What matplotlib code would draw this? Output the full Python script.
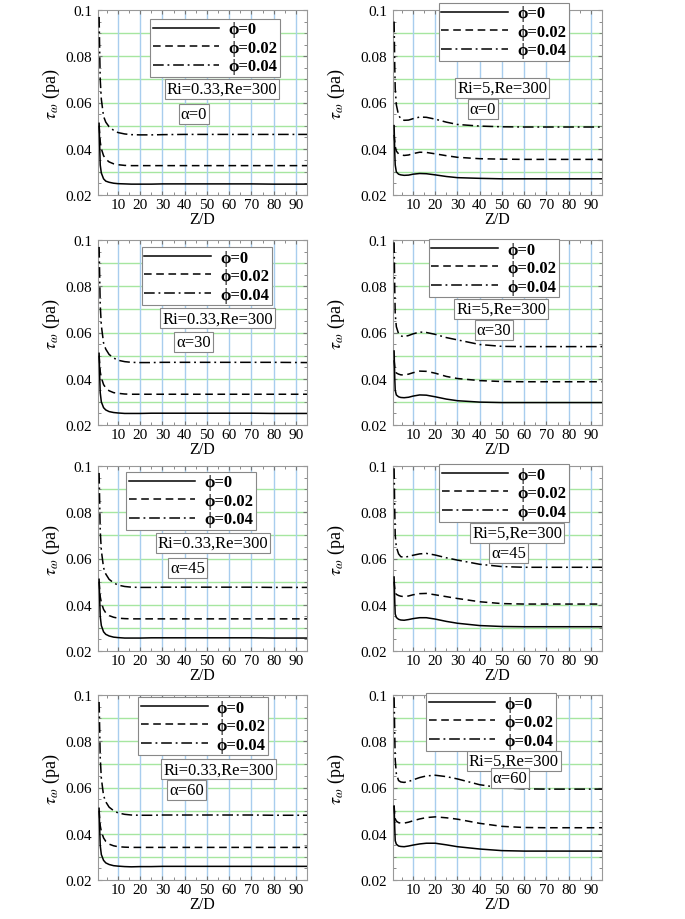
import numpy as np
import matplotlib
matplotlib.use('Agg')
import matplotlib.pyplot as plt
from matplotlib.ticker import MultipleLocator, FormatStrFormatter

plt.rcParams['font.family'] = ['Liberation Serif', 'DejaVu Serif']
plt.rcParams['mathtext.fontset'] = 'stix'

# wspólna oś Z/D
Z = [1.5, 1.8, 2.0, 2.5, 3.5, 4.5, 6, 8, 10, 13, 16, 20, 25, 30, 40, 50, 60, 70, 80, 95]

# Ri=0.33, Re=300
ri033_a0_p0 = [0.051, 0.040, 0.033, 0.0295, 0.027, 0.026, 0.0255, 0.0251, 0.0249, 0.0248, 0.0247, 0.0247, 0.0247, 0.0248, 0.0248, 0.0248, 0.0248, 0.0248, 0.0247, 0.0247]
ri033_a0_p2 = [0.050, 0.046, 0.043, 0.040, 0.037, 0.0355, 0.0343, 0.0335, 0.0331, 0.0328, 0.0327, 0.0327, 0.0327, 0.0327, 0.0327, 0.0327, 0.0327, 0.0327, 0.0327, 0.0327]
ri033_a0_p4 = [0.097, 0.080, 0.070, 0.0614, 0.054, 0.0515, 0.0495, 0.048, 0.047, 0.0464, 0.0461, 0.046, 0.046, 0.0461, 0.0462, 0.0462, 0.0462, 0.0462, 0.0462, 0.0462]

ri033_a30_p0 = [0.051, 0.040, 0.034, 0.030, 0.0275, 0.0265, 0.0258, 0.0254, 0.0252, 0.0250, 0.0250, 0.0250, 0.0251, 0.0251, 0.0251, 0.0251, 0.0251, 0.0251, 0.0250, 0.0250]
ri033_a30_p2 = [0.050, 0.046, 0.043, 0.0405, 0.0375, 0.036, 0.0348, 0.0340, 0.0337, 0.0334, 0.0333, 0.0333, 0.0333, 0.0333, 0.0333, 0.0333, 0.0333, 0.0333, 0.0333, 0.0333]
ri033_a30_p4 = [0.097, 0.082, 0.072, 0.063, 0.0555, 0.0528, 0.0505, 0.049, 0.048, 0.0474, 0.0471, 0.0470, 0.0470, 0.0471, 0.0471, 0.0471, 0.0471, 0.0471, 0.0471, 0.0470]

ri033_a45_p0 = [0.051, 0.041, 0.035, 0.031, 0.0283, 0.0272, 0.0265, 0.026, 0.0258, 0.0256, 0.0256, 0.0256, 0.0257, 0.0257, 0.0257, 0.0257, 0.0257, 0.0257, 0.0256, 0.0256]
ri033_a45_p2 = [0.050, 0.046, 0.0435, 0.041, 0.038, 0.0365, 0.0353, 0.0346, 0.0342, 0.034, 0.0339, 0.0339, 0.0339, 0.0339, 0.0339, 0.0339, 0.0339, 0.0339, 0.0339, 0.0339]
ri033_a45_p4 = [0.097, 0.082, 0.072, 0.0635, 0.056, 0.0533, 0.051, 0.0495, 0.0485, 0.0479, 0.0476, 0.0475, 0.0475, 0.0476, 0.0476, 0.0476, 0.0476, 0.0476, 0.0475, 0.0475]

ri033_a60_p0 = [0.051, 0.041, 0.035, 0.031, 0.0285, 0.0274, 0.0267, 0.0262, 0.026, 0.0258, 0.0257, 0.0258, 0.0258, 0.0259, 0.0259, 0.0259, 0.0259, 0.0259, 0.0259, 0.0259]
ri033_a60_p2 = [0.050, 0.046, 0.0435, 0.041, 0.0382, 0.0367, 0.0355, 0.0348, 0.0344, 0.0342, 0.0341, 0.0341, 0.0341, 0.0341, 0.0341, 0.0341, 0.0341, 0.0341, 0.0341, 0.0341]
ri033_a60_p4 = [0.097, 0.083, 0.073, 0.064, 0.0565, 0.0538, 0.0515, 0.050, 0.049, 0.0484, 0.0481, 0.048, 0.048, 0.0481, 0.0481, 0.0481, 0.0481, 0.0481, 0.048, 0.048]

# Ri=5, Re=300
ri5_a0_p0 = [0.050, 0.038, 0.033, 0.030, 0.0290, 0.0287, 0.0285, 0.0286, 0.0290, 0.0293, 0.0292, 0.0287, 0.0280, 0.0275, 0.0272, 0.0270, 0.0270, 0.0270, 0.0270, 0.0270]
ri5_a0_p2 = [0.046, 0.043, 0.041, 0.039, 0.0378, 0.0374, 0.0371, 0.0373, 0.0379, 0.0385, 0.0384, 0.0378, 0.0370, 0.0363, 0.0357, 0.0355, 0.0354, 0.0354, 0.0354, 0.0354]
ri5_a0_p4 = [0.095, 0.075, 0.066, 0.059, 0.0545, 0.053, 0.0523, 0.0524, 0.053, 0.0537, 0.0536, 0.0528, 0.0515, 0.0505, 0.0498, 0.0495, 0.0494, 0.0494, 0.0494, 0.0494]

ri5_a30_p0 = [0.052, 0.040, 0.035, 0.033, 0.0322, 0.0319, 0.0318, 0.0320, 0.0325, 0.0330, 0.0329, 0.0322, 0.0312, 0.0305, 0.0299, 0.0297, 0.0297, 0.0297, 0.0297, 0.0297]
ri5_a30_p2 = [0.048, 0.045, 0.0435, 0.0425, 0.042, 0.0417, 0.0416, 0.042, 0.0426, 0.0433, 0.0432, 0.0424, 0.041, 0.0401, 0.0392, 0.0388, 0.0387, 0.0387, 0.0387, 0.0387]
ri5_a30_p4 = [0.099, 0.078, 0.068, 0.0625, 0.0595, 0.0585, 0.0582, 0.0587, 0.0594, 0.0602, 0.0600, 0.0592, 0.0578, 0.0568, 0.0548, 0.0540, 0.0539, 0.0539, 0.0539, 0.0539]

ri5_a45_p0 = [0.052, 0.041, 0.036, 0.0345, 0.0337, 0.0334, 0.0333, 0.0336, 0.034, 0.0344, 0.0344, 0.0338, 0.0328, 0.032, 0.031, 0.0306, 0.0305, 0.0305, 0.0305, 0.0305]
ri5_a45_p2 = [0.050, 0.047, 0.0455, 0.0445, 0.044, 0.0437, 0.0435, 0.0438, 0.0443, 0.0448, 0.0449, 0.0443, 0.0435, 0.0427, 0.0413, 0.0405, 0.0403, 0.0403, 0.0403, 0.0403]
ri5_a45_p4 = [0.099, 0.080, 0.070, 0.065, 0.062, 0.0608, 0.0605, 0.0609, 0.0614, 0.062, 0.0622, 0.0615, 0.0603, 0.0593, 0.0575, 0.0565, 0.0562, 0.0562, 0.0562, 0.0562]

ri5_a60_p0 = [0.052, 0.042, 0.037, 0.0355, 0.0347, 0.0345, 0.0344, 0.0347, 0.0351, 0.0356, 0.0359, 0.0359, 0.0352, 0.0344, 0.0334, 0.0327, 0.0325, 0.0325, 0.0325, 0.0325]
ri5_a60_p2 = [0.052, 0.048, 0.0465, 0.0455, 0.0448, 0.0446, 0.0446, 0.045, 0.0456, 0.0464, 0.0470, 0.0473, 0.0469, 0.0463, 0.0445, 0.0432, 0.0427, 0.0426, 0.0426, 0.0426]
ri5_a60_p4 = [0.099, 0.082, 0.072, 0.066, 0.063, 0.0624, 0.0622, 0.0626, 0.0633, 0.0643, 0.0650, 0.0653, 0.0647, 0.0637, 0.0612, 0.0598, 0.0594, 0.0593, 0.0593, 0.0593]

PHI_LABELS = ['ϕ=0', 'ϕ=0.02', 'ϕ=0.04']
X_TICKS = [10, 20, 30, 40, 50, 60, 70, 80, 90]
Y_TICKS = [0.02, 0.04, 0.06, 0.08, 0.1]
H_GRID = [0.03, 0.04, 0.05, 0.06, 0.07, 0.08, 0.09]


def draw_panel(ax, series, ri_text, alpha_text, leg_pos, ri_pos, a_pos, ylab_x):
    # siatka: zielone poziome, niebieskie pionowe
    for y in H_GRID:
        ax.axhline(y, color='#a6e6a0', lw=1.0, zorder=0)
    for x in X_TICKS:
        ax.axvline(x, color='#a8cdee', lw=1.0, zorder=0)

    styles = ['-', (0, (5, 3)), (0, (7, 2.5, 1.2, 2.5))]
    for s, ls, lab in zip(series, styles, PHI_LABELS):
        ax.plot(Z, s, color='black', lw=1.1, linestyle=ls, label=lab, zorder=3)

    ax.set_xlim(1, 95)
    ax.set_ylim(0.02, 0.1)
    ax.set_xticks(X_TICKS)
    ax.set_yticks(Y_TICKS)
    ax.yaxis.set_major_formatter(FormatStrFormatter('%g'))
    ax.xaxis.set_minor_locator(MultipleLocator(5))
    ax.yaxis.set_minor_locator(MultipleLocator(0.005))
    ax.tick_params(which='both', direction='in', top=True, right=True, color='#777777', labelsize=11)
    ax.tick_params(which='major', length=3)
    ax.tick_params(which='minor', length=2)
    ax.tick_params(axis='x', pad=2)
    ax.tick_params(axis='y', pad=4)
    for sp in ax.spines.values():
        sp.set_color('#999999')

    ax.set_xlabel('Z/D', fontsize=11.5, labelpad=0)
    ax.set_ylabel(r'$\tau_{\omega}$ (pa)', fontsize=13)
    ax.yaxis.set_label_coords(ylab_x, 0.55)

    leg = ax.legend(loc='upper left', bbox_to_anchor=leg_pos, fontsize=12,
                    handlelength=4.0, handletextpad=0.55, labelspacing=0.15,
                    borderpad=0.15, borderaxespad=0, fancybox=False, framealpha=1)
    leg.get_frame().set_edgecolor('#888888')
    leg.get_frame().set_linewidth(0.8)
    for t in leg.get_texts():
        t.set_fontweight('bold')

    box = dict(boxstyle='square,pad=0.12', fc='white', ec='#888888', lw=0.8)
    ax.text(ri_pos[0], ri_pos[1], ri_text, transform=ax.transAxes, ha='center', va='center',
            fontsize=12, bbox=box, zorder=5)
    ax.text(a_pos[0], a_pos[1], alpha_text, transform=ax.transAxes, ha='center', va='center',
            fontsize=12, bbox=box, zorder=5)


fig = plt.figure(figsize=(6.85, 9.2), dpi=100)

W = 209 / 685
H = 185 / 920
rows_top = [11, 241, 467, 696]
left_x = 98 / 685
right_x = 393 / 685

left_series = [
    [ri033_a0_p0, ri033_a0_p2, ri033_a0_p4],
    [ri033_a30_p0, ri033_a30_p2, ri033_a30_p4],
    [ri033_a45_p0, ri033_a45_p2, ri033_a45_p4],
    [ri033_a60_p0, ri033_a60_p2, ri033_a60_p4],
]
right_series = [
    [ri5_a0_p0, ri5_a0_p2, ri5_a0_p4],
    [ri5_a30_p0, ri5_a30_p2, ri5_a30_p4],
    [ri5_a45_p0, ri5_a45_p2, ri5_a45_p4],
    [ri5_a60_p0, ri5_a60_p2, ri5_a60_p4],
]
alphas = ['α=0', 'α=30', 'α=45', 'α=60']

# pozycje legendy i ramek z tekstem (ułamki osi)
left_leg = [(0.249, 0.952), (0.21, 0.962), (0.135, 0.968), (0.193, 0.989)]
left_ri = [(0.593, 0.575), (0.572, 0.576), (0.55, 0.584), (0.577, 0.598)]
left_a = [(0.459, 0.44), (0.457, 0.451), (0.43, 0.451), (0.425, 0.489)]
right_leg = [(0.22, 1.038), (0.172, 1.005), (0.221, 1.01), (0.159, 1.01)]
right_ri = [(0.522, 0.58), (0.517, 0.627), (0.594, 0.64), (0.577, 0.645)]
right_a = [(0.43, 0.467), (0.483, 0.516), (0.553, 0.53), (0.56, 0.554)]

for i, top in enumerate(rows_top):
    bottom = 1 - (top + 185) / 920
    axl = fig.add_axes([left_x, bottom, W, H])
    draw_panel(axl, left_series[i], 'Ri=0.33,Re=300', alphas[i], left_leg[i], left_ri[i], left_a[i], -36 / 209)
    axr = fig.add_axes([right_x, bottom, W, H])
    draw_panel(axr, right_series[i], 'Ri=5,Re=300', alphas[i], right_leg[i], right_ri[i], right_a[i], -46 / 209)

plt.savefig('out.png', dpi=100)
